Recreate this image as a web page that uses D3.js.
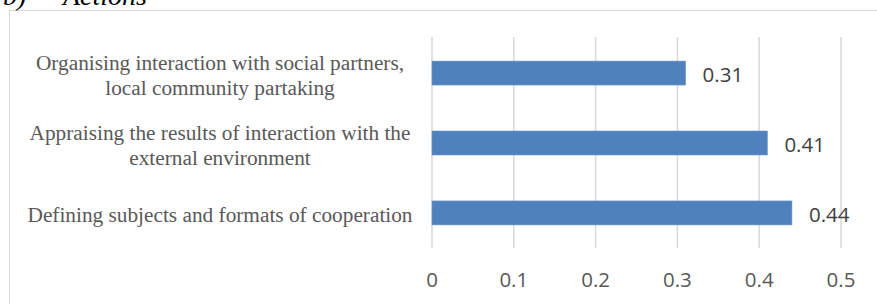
<!DOCTYPE html>
<html>
<head>
    <script src="https://cdnjs.cloudflare.com/ajax/libs/d3/7.8.5/d3.min.js"></script>
    <style>
        body { margin: 0; background: #fff; }
    </style>
</head>
<body>
    <div id="chart"></div>
    <script>
        // data, top to bottom as in the figure
        const categories = [
            ["Organising interaction with social partners,", "local community partaking"],
            ["Appraising the results of interaction with the", "external environment"],
            ["Defining subjects and formats of cooperation"]
        ];
        const values = [0.31, 0.41, 0.44];
        const tickValues = [0, 0.1, 0.2, 0.3, 0.4, 0.5];

        const width = 877, height = 304;
        const svg = d3.select("#chart")
            .append("svg")
            .attr("width", width)
            .attr("height", height);

        // chart frame (runs off right and bottom edge)
        svg.append("rect")
            .attr("x", 9.5).attr("y", 10.5)
            .attr("width", 900).attr("height", 320)
            .attr("fill", "none")
            .attr("stroke", "#d9d9d9");

        // heading above the frame, cut off at the top like the source
        svg.append("text")
            .attr("x", 3).attr("y", 5)
            .attr("font-family", "Liberation Serif")
            .attr("font-style", "italic")
            .attr("font-size", 28)
            .text("b)");
        svg.append("text")
            .attr("x", 63).attr("y", 5)
            .attr("font-family", "Liberation Serif")
            .attr("font-style", "italic")
            .attr("font-size", 28)
            .text("Actions");

        const x = d3.scaleLinear().domain([0, 0.5]).range([432, 841]);
        const y = d3.scaleBand().domain(d3.range(values.length)).range([38, 248]).paddingInner(0.657).paddingOuter(0.33);

        // gridlines
        svg.append("g")
            .selectAll("line")
            .data(tickValues)
            .join("line")
            .attr("x1", d => x(d)).attr("x2", d => x(d))
            .attr("y1", 37).attr("y2", 248)
            .attr("stroke", "#d9d9d9")
            .attr("stroke-width", 1.5);

        // x tick labels
        svg.append("g")
            .selectAll("text")
            .data(tickValues)
            .join("text")
            .attr("x", d => x(d))
            .attr("y", 280)
            .attr("dy", "0.35em")
            .attr("text-anchor", "middle")
            .attr("font-family", "Open Sans")
            .attr("font-size", 20.5)
            .attr("fill", "#595959")
            .text(d => d);

        // bars
        svg.append("g")
            .selectAll("rect")
            .data(values)
            .join("rect")
            .attr("x", x(0))
            .attr("y", (d, i) => y(i))
            .attr("width", d => x(d) - x(0))
            .attr("height", y.bandwidth())
            .attr("fill", "#4f81bd")
            .attr("stroke", "#6f97c9")
            .attr("stroke-width", 0.6);

        // value labels
        svg.append("g")
            .selectAll("text")
            .data(values)
            .join("text")
            .attr("x", d => x(d) + 17)
            .attr("y", (d, i) => y(i) + y.bandwidth() / 2 + 2)
            .attr("dy", "0.35em")
            .attr("font-family", "Open Sans")
            .attr("font-size", 20.5)
            .attr("fill", "#404040")
            .text(d => d);

        // category labels
        const labels = svg.append("g")
            .selectAll("text")
            .data(categories)
            .join("text")
            .attr("text-anchor", "middle")
            .attr("font-family", "Liberation Serif")
            .attr("font-size", 21.3)
            .attr("fill", "#595959")
            .attr("transform", (d, i) => `translate(220,${y(i) + y.bandwidth() / 2 + 2})`);

        labels.selectAll("tspan")
            .data(d => d)
            .join("tspan")
            .attr("x", 0)
            .attr("y", (d, i, n) => (i - (n.length - 1) / 2) * 24.5)
            .attr("dy", "0.35em")
            .text(d => d);
    </script>
</body>
</html>
